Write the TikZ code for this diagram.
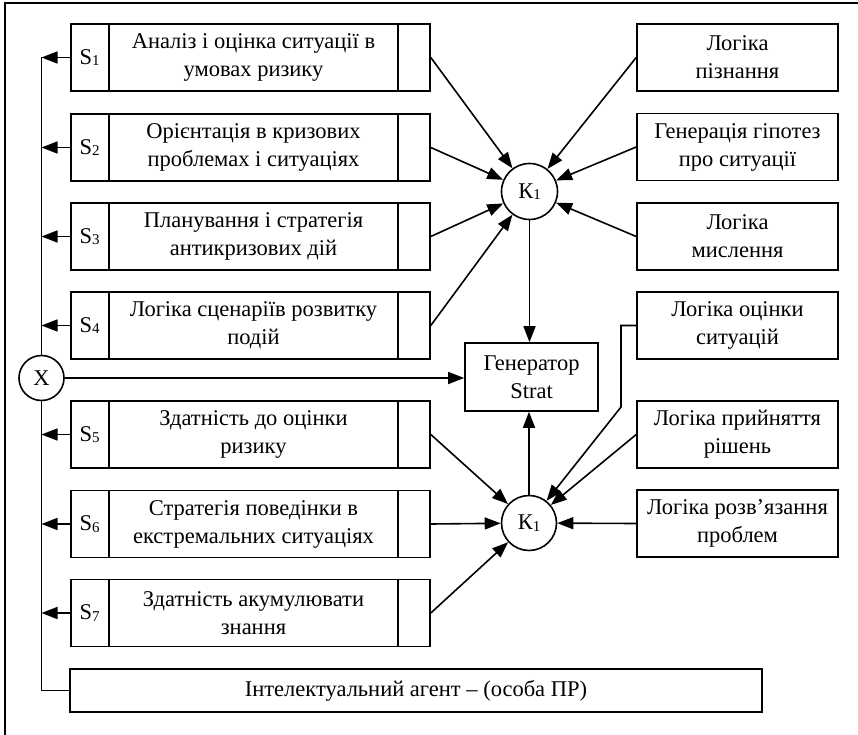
\documentclass[tikz,border=0pt]{standalone}
\usepackage{fontspec}
\setmainfont{Liberation Serif}
\usetikzlibrary{arrows.meta}
\newcommand{\idx}[1]{\raisebox{-1.5pt}{\fontsize{15}{15}\selectfont #1}}

\begin{document}
\begin{tikzpicture}[x=1pt,y=-1pt,line width=1.6pt,
	txt/.style={font=\fontsize{22.5}{28}\selectfont,align=center},
	sbox/.style={draw,minimum width=359pt,minimum height=67pt,inner sep=0pt},
	rbox/.style={draw,txt,minimum width=201pt,minimum height=67pt,inner sep=0pt},
	knot/.style={draw,circle,fill=white,txt,inner sep=0pt},
	arr/.style={-{Triangle[length=16pt,width=12pt]}}]
	\useasboundingbox (0,0) rectangle (858,735);

	% frame
	\draw (5,735) -- (5,3) -- (858,3);

	% left boxes S1..S7
	\foreach \i/\y/\t in {1/57.5/{Аналіз і оцінка ситуації в\\умовах ризику},
		2/147.5/{Орієнтація в кризових\\проблемах і ситуаціях},
		3/236.5/{Планування і стратегія\\антикризових дій},
		4/325.5/{Логіка сценаріїв розвитку\\подій},
		5/434.5/{Здатність до оцінки\\ризику},
		6/524/{Стратегія поведінки в\\екстремальних ситуаціях},
		7/613/{Здатність акумулювати\\знання}} {
		\node[sbox] (s\i) at (250.5,\y) {};
		\draw ([xshift=39pt]s\i.north west) -- ([xshift=39pt]s\i.south west);
		\draw ([xshift=-33pt]s\i.north east) -- ([xshift=-33pt]s\i.south east);
		\node[txt] (sl\i) at ([xshift=19.5pt]s\i.west) {S\idx{\i}};
		\node[txt] (st\i) at ([xshift=3pt]s\i.center) {\t};
	}

	% right boxes
	\foreach \i/\y/\t in {1/57.5/{Логіка\\пізнання},
		2/147/{Генерація гіпотез\\про ситуації},
		3/236.5/{Логіка\\мислення},
		4/325.5/{Логіка оцінки\\ситуацій},
		5/434.5/{Логіка прийняття\\рішень},
		6/523.5/{Логіка розв’язання\\проблем}} {
		\node[rbox] (r\i) at (737.5,\y) {\t};
	}

	% generator, agent, circles
	\node[rbox,minimum width=133pt,minimum height=68pt] (gen) at (531.5,377) {Генератор\\Strat};
	\node[draw,txt,minimum width=692pt,minimum height=43pt] (agent) at (416,690.5) {Інтелектуальний агент – (особа ПР)};
	\node[knot,minimum size=45pt] (X) at (41.5,378) {X};
	\node[knot,minimum size=56pt] (k1) at (529.5,191.5) {К\idx{1}};
	\node[knot,minimum size=55pt] (k2) at (529,523) {К\idx{1}};
	\coordinate (bend) at (621,407);

	% bus on the left
	\draw (s1.west -| X.north) -- (X.north);
	\draw (X.south) |- (agent.west);
	\foreach \i in {1,...,7}
		\draw[arr] (s\i.west) -- (s\i.west -| X.center);
	\draw[arr] (X.east) -- (X.east -| gen.west);

	% into the two knots
	\foreach \i in {1,...,4}
		\draw[arr] (s\i.east) -- (k1);
	\foreach \i in {1,2,3}
		\draw[arr] (r\i.west) -- (k1);
	\foreach \i in {5,6,7}
		\draw[arr] (s\i.east) -- (k2);
	\draw[arr] (r5.west) -- (k2);
	\draw[arr] (r6.west) -- (k2);
	\draw[arr] (r4.west) -- (bend |- r4.west) -- (bend) -- (k2);

	% knots to generator
	\draw[arr] (k1.south) -- (k1.south |- gen.north);
	\draw[arr] (k2.north) -- (k2.north |- gen.south);
\end{tikzpicture}
\end{document}
